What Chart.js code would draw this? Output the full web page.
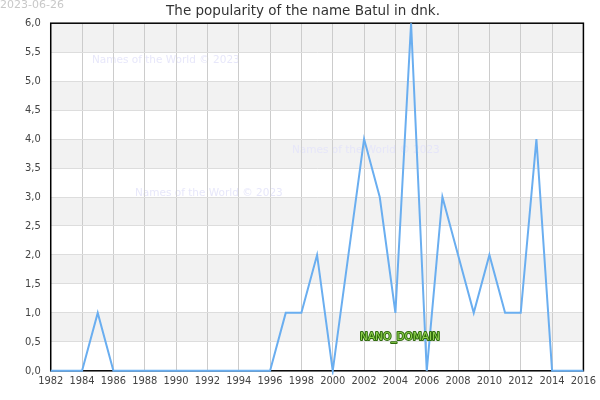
<!DOCTYPE html>
<html>
<head>
<meta charset="utf-8">
<script src="https://cdn.jsdelivr.net/npm/chart.js@4/dist/chart.umd.min.js"></script>
<style>
  body { margin: 0; background: #fff; }
  #wrap { width: 600px; height: 400px; }
</style>
</head>
<body>
<div id="wrap"><canvas id="chart"></canvas></div>
<script>
const years = [1982, 1983, 1984, 1985, 1986, 1987, 1988, 1989, 1990, 1991, 1992, 1993, 1994, 1995,
    1996, 1997, 1998, 1999, 2000, 2001, 2002, 2003, 2004, 2005, 2006, 2007, 2008, 2009, 2010,
    2011, 2012, 2013, 2014, 2015, 2016];
const counts = [0, 0, 0, 1, 0, 0, 0, 0, 0, 0, 0, 0, 0, 0,
    0, 1, 1, 2, 0, 2, 4, 3, 1, 6, 0, 3, 2, 1, 2,
    1, 1, 4, 0, 0, 0];
const titleText = 'The popularity of the name Batul in dnk.';
const dateText = '2023-06-26';
const watermark = 'Names of the World © 2023';

// background: white, gray bands every other 0.5 step, faint watermarks (all under the grid)
const backPlugin = {
    id: 'back',
    beforeDraw(chart) {
        const { ctx, chartArea, scales } = chart;
        ctx.save();
        ctx.fillStyle = '#fff';
        ctx.fillRect(0, 0, chart.width, chart.height);
        ctx.fillStyle = '#f2f2f2';
        for (let v = 0.5; v < 6; v += 1) {
            const yTop = scales.y.getPixelForValue(v + 0.5);
            const yBot = scales.y.getPixelForValue(v);
            ctx.fillRect(chartArea.left, yTop, chartArea.right - chartArea.left, yBot - yTop);
        }
        ctx.font = '10.5px "DejaVu Sans"';
        ctx.fillStyle = 'rgba(228,228,250,0.9)';
        ctx.textBaseline = 'middle';
        ctx.fillText(watermark, 92, 60);
        ctx.fillText(watermark, 292, 150);
        ctx.fillText(watermark, 135, 193);
        ctx.restore();
    },
    beforeDatasetsDraw(chart) {
        const { ctx, chartArea } = chart;
        ctx.save();
        ctx.strokeStyle = '#000';
        ctx.lineWidth = 1.5;
        ctx.strokeRect(chartArea.left, chartArea.top, chartArea.right - chartArea.left, chartArea.bottom - chartArea.top);
        ctx.restore();
    },
    afterDatasetsDraw(chart) {
        const ctx = chart.ctx;
        ctx.save();
        ctx.font = '10.5px "DejaVu Sans"';
        ctx.textAlign = 'center';
        ctx.textBaseline = 'middle';
        ctx.lineWidth = 2;
        ctx.lineJoin = 'round';
        ctx.strokeStyle = '#2f6b0c';
        ctx.strokeText('NANO_DOMAIN', 400, 337);
        ctx.fillStyle = '#8fd14f';
        ctx.fillText('NANO_DOMAIN', 400, 337);

        ctx.font = '11px "DejaVu Sans"';
        ctx.textAlign = 'left';
        ctx.textBaseline = 'top';
        ctx.fillStyle = '#c8c8c8';
        ctx.fillText(dateText, 0, 0);
        ctx.restore();
    }
};

const tickFont = { family: '"DejaVu Sans Condensed", "DejaVu Sans"', size: 11 };

new Chart(document.getElementById('chart'), {
    type: 'line',
    data: {
        datasets: [{
            data: years.map((y, i) => ({ x: y, y: counts[i] })),
            borderColor: '#6aaef0',
            borderWidth: 2,
            pointRadius: 0,
            tension: 0,
            fill: false,
            clip: 4
        }]
    },
    options: {
        responsive: true,
        maintainAspectRatio: false,
        animation: false,
        layout: { padding: { left: 15, right: 9, top: 0, bottom: 8 } },
        plugins: {
            legend: { display: false },
            tooltip: { enabled: false },
            title: {
                display: true,
                text: titleText,
                color: '#333',
                font: { family: 'DejaVu Sans', size: 13.5, weight: 'normal' },
                padding: { top: 3, bottom: 4 }
            }
        },
        scales: {
            x: {
                type: 'linear',
                min: 1982,
                max: 2016,
                grid: { color: '#cccccc', lineWidth: 1, drawTicks: false },
                border: { display: false },
                ticks: {
                    stepSize: 2,
                    color: '#444',
                    padding: 4,
                    maxRotation: 0,
                    font: tickFont,
                    callback: v => String(v)
                }
            },
            y: {
                min: 0,
                max: 6,
                grid: { color: '#dddddd', lineWidth: 1, drawTicks: false },
                border: { display: false },
                ticks: {
                    stepSize: 0.5,
                    color: '#444',
                    padding: 10,
                    font: tickFont,
                    callback: v => v.toFixed(1).replace('.', ',')
                }
            }
        }
    },
    plugins: [backPlugin]
});
</script>
</body>
</html>
